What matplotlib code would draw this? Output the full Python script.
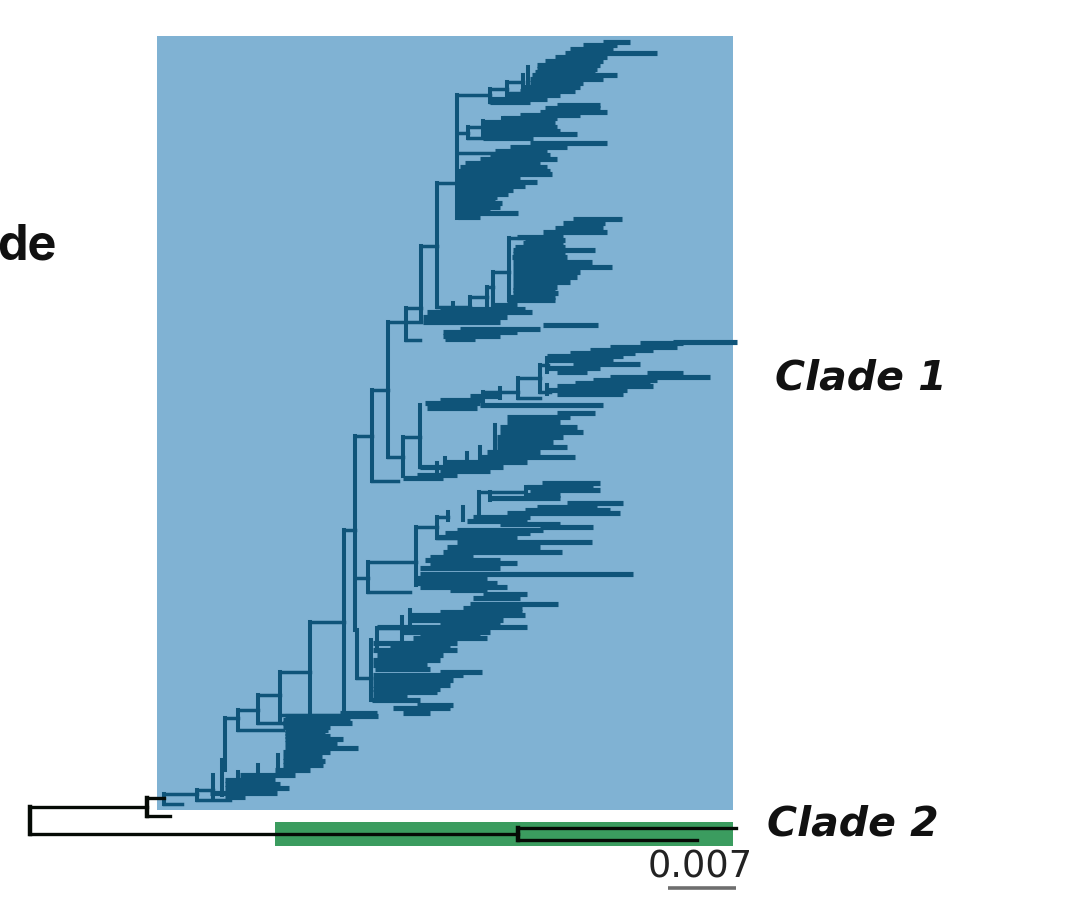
import matplotlib
matplotlib.use("Agg")
import matplotlib.pyplot as plt
from matplotlib.patches import Rectangle

# tree: tips are (row, start, end), in image pixels
tips_top_a = [(42, 603, 630), (45, 583, 617), (49, 570, 613), (53, 565, 657), (57, 555, 607),
              (61, 545, 603), (65, 537, 600), (69, 537, 597), (72, 535, 595), (75, 532, 617),
              (79, 530, 603), (83, 530, 583), (87, 523, 580), (91, 520, 575), (95, 507, 560),
              (99, 490, 547), (102, 490, 530)]
tips_top_b = [(105, 557, 600), (108, 545, 600), (112, 540, 607), (115, 520, 580), (118, 503, 557),
              (122, 483, 555), (127, 483, 557), (131, 483, 560), (134, 483, 577), (138, 483, 533)]
tips_top_c = [(143, 530, 607), (147, 510, 567), (151, 495, 547), (155, 490, 550), (159, 480, 557),
              (163, 465, 540), (167, 460, 547), (171, 458, 550), (174, 458, 552), (178, 458, 520),
              (182, 458, 537), (186, 458, 525), (190, 458, 513), (194, 458, 508), (197, 458, 497),
              (200, 458, 495), (203, 458, 502), (207, 458, 500), (210, 458, 490), (213, 458, 518),
              (217, 458, 480)]
tips_second = [(219, 573, 622), (223, 563, 605), (228, 555, 603), (232, 543, 607), (237, 517, 563),
               (240, 525, 565), (243, 523, 563), (247, 515, 565), (250, 513, 595), (254, 513, 565),
               (257, 512, 567), (262, 513, 592), (267, 513, 612), (272, 513, 580), (277, 513, 577),
               (282, 513, 570), (287, 513, 557), (290, 513, 555), (293, 513, 558), (297, 510, 555),
               (300, 507, 555), (305, 493, 517), (309, 440, 525), (312, 427, 532), (317, 423, 507),
               (322, 423, 500)]
tips_side = [(325, 543, 598), (329, 460, 540), (332, 443, 517), (336, 443, 500), (339, 445, 475)]
tips_long_up = [(342, 673, 737), (343, 640, 683), (347, 610, 677), (350, 590, 653), (353, 570, 635),
                (356, 547, 623), (360, 547, 613), (364, 573, 640), (368, 547, 600), (372, 557, 587)]
tips_long_low = [(373, 647, 683), (377, 610, 710), (380, 593, 657), (383, 575, 650), (386, 557, 653),
                 (390, 547, 627), (394, 557, 623)]
tips_mid = [(396, 470, 500), (400, 440, 483), (403, 425, 480), (405, 480, 603), (408, 427, 477),
            (413, 557, 595), (417, 507, 570), (422, 507, 560), (427, 500, 577), (432, 500, 583),
            (437, 497, 563), (442, 497, 553), (447, 497, 567), (452, 487, 540), (457, 480, 575),
            (462, 443, 527), (467, 420, 503), (471, 440, 490), (475, 417, 457), (478, 403, 443)]
tips_low_a = [(483, 542, 600), (487, 527, 593), (490, 530, 600), (495, 527, 560), (498, 490, 560),
              (503, 567, 623), (507, 537, 597), (510, 525, 610), (513, 507, 620), (517, 473, 530),
              (521, 467, 527), (524, 500, 560), (527, 540, 593), (530, 457, 543), (533, 445, 530),
              (537, 437, 517), (542, 457, 592), (547, 447, 540), (552, 443, 562), (557, 430, 473),
              (560, 425, 500), (563, 430, 517), (568, 420, 500), (574, 420, 633), (578, 417, 487),
              (583, 417, 497), (587, 420, 507), (590, 450, 487)]
tips_low_b = [(594, 483, 527), (598, 473, 520), (604, 470, 558), (608, 463, 522), (612, 440, 522),
              (615, 410, 525), (620, 410, 503), (624, 440, 500), (627, 377, 527), (632, 403, 490),
              (635, 420, 480), (638, 413, 487), (643, 373, 457), (647, 390, 450), (650, 373, 457),
              (655, 377, 443), (660, 373, 440), (665, 373, 427), (669, 375, 430), (672, 440, 482),
              (675, 373, 463), (680, 373, 453), (685, 373, 450), (689, 373, 440), (692, 373, 437),
              (697, 373, 407), (700, 372, 420), (705, 417, 453), (708, 393, 450), (713, 403, 430)]
tips_root = [(713, 340, 377), (716, 285, 378), (720, 283, 350), (723, 283, 352), (727, 283, 330),
             (730, 285, 328), (733, 285, 325), (736, 285, 330), (739, 285, 343), (743, 285, 337),
             (748, 285, 358), (752, 283, 330), (757, 283, 322), (761, 283, 325), (765, 283, 323),
             (770, 275, 310), (775, 240, 295), (780, 225, 275), (784, 225, 280), (788, 225, 289),
             (793, 210, 277), (797, 225, 245)]
all_tips = [tips_top_a, tips_top_b, tips_top_c, tips_second, tips_side, tips_long_up, tips_long_low,
            tips_mid, tips_low_a, tips_low_b, tips_root]

# internal branches: horizontal (row, start, end), vertical (col, top, bottom)
branch_h = [(95, 457, 490), (89, 490, 507), (102, 490, 507), (82, 507, 523), (93, 507, 523),
            (133, 457, 468), (127, 468, 483), (138, 468, 483), (153, 457, 495),
            (183, 437, 457), (307, 437, 470), (246, 421, 437), (238, 509, 525), (272, 493, 509),
            (287, 487, 493), (297, 470, 487), (322, 388, 421), (308, 406, 421), (340, 406, 420),
            (390, 372, 388), (457, 388, 403), (481, 372, 398), (437, 403, 420), (467, 420, 437),
            (378, 518, 540), (398, 518, 540), (392, 483, 518), (365, 540, 548), (392, 540, 550),
            (436, 355, 372), (530, 344, 355), (578, 357, 368), (562, 368, 416), (592, 368, 410),
            (527, 416, 437), (538, 437, 460), (517, 437, 448), (492, 479, 525), (678, 357, 371),
            (628, 377, 400), (622, 310, 344), (672, 280, 310), (695, 258, 280),
            (710, 238, 258), (718, 225, 238), (730, 238, 283), (723, 258, 283), (715, 283, 345),
            (794, 165, 197), (790, 197, 213), (800, 197, 230), (804, 164, 182)]
branch_v = [(457, 95, 218), (490, 89, 102), (507, 82, 102), (523, 75, 93), (528, 67, 90),
            (468, 127, 138), (483, 121, 138), (503, 118, 127), (437, 183, 307),
            (509, 238, 300), (493, 272, 310), (487, 287, 310), (470, 297, 312), (453, 303, 318),
            (421, 246, 322), (406, 308, 340), (388, 322, 457), (372, 390, 481), (403, 437, 476),
            (420, 405, 467), (483, 392, 402), (500, 388, 398), (518, 378, 398), (540, 365, 392),
            (547, 358, 372), (547, 385, 394), (437, 463, 472), (445, 458, 470), (467, 453, 465),
            (480, 447, 460), (495, 425, 460), (355, 436, 630), (344, 530, 715), (357, 630, 678),
            (368, 562, 592), (416, 527, 585), (437, 517, 538), (448, 512, 520), (463, 507, 520),
            (479, 492, 520), (490, 492, 500), (526, 487, 497), (371, 640, 700), (377, 628, 650),
            (402, 617, 640), (410, 610, 630), (310, 622, 715), (280, 672, 723), (258, 695, 723),
            (238, 710, 730), (225, 718, 770), (222, 760, 795), (213, 775, 797), (197, 790, 800),
            (164, 794, 804), (278, 755, 770), (258, 765, 775), (238, 772, 785)]

# outgroup and clade 2, drawn in black
outgroup_h = [(807, 30, 147), (798, 147, 164), (816, 147, 170), (834, 30, 518),
              (828, 518, 736), (840, 518, 697)]
outgroup_v = [(30, 807, 834), (147, 798, 816), (518, 828, 840)]

clade_labels = ["Clade 1", "Clade 2"]
scale_label = "0.007"

BLUE = "#80b2d3"
TREE = "#0f5479"
GREEN = "#3b9c5f"

fig = plt.figure(figsize=(10.92, 9.01), dpi=100)
ax = fig.add_axes([0, 0, 1, 1])
ax.set_xlim(0, 1092)
ax.set_ylim(901, 0)
ax.axis("off")

# coloured clade backgrounds
ax.add_patch(Rectangle((157, 36), 576, 774, color=BLUE, lw=0))
ax.add_patch(Rectangle((275, 822), 458, 24, color=GREEN, lw=0))

for group in all_tips:
    ax.hlines([t[0] for t in group], [t[1] for t in group], [t[2] for t in group],
              color=TREE, lw=3.7, capstyle="butt")
ax.hlines([b[0] for b in branch_h], [b[1] for b in branch_h], [b[2] for b in branch_h],
          color=TREE, lw=2.5, capstyle="projecting")
ax.vlines([b[0] for b in branch_v], [b[1] for b in branch_v], [b[2] for b in branch_v],
          color=TREE, lw=2.9, capstyle="projecting")

ax.hlines([b[0] for b in outgroup_h], [b[1] for b in outgroup_h], [b[2] for b in outgroup_h],
          color="#050a05", lw=2.4, capstyle="projecting")
ax.vlines([b[0] for b in outgroup_v], [b[1] for b in outgroup_v], [b[2] for b in outgroup_v],
          color="#050a05", lw=3.2, capstyle="projecting")

# scale bar
ax.hlines(888, 668, 736, color="#6e6e6e", lw=2.6)
ax.text(700, 867, scale_label, ha="center", va="center", fontsize=26.5, color="#222222")

ax.text(775, 378, clade_labels[0], ha="left", va="center", fontsize=29.5,
        fontweight="bold", fontstyle="italic", color="#111111")
ax.text(767, 824, clade_labels[1], ha="left", va="center", fontsize=29.5,
        fontweight="bold", fontstyle="italic", color="#111111")

# cropped word at the left edge of the original
ax.text(-3, 246, "de", ha="left", va="center", fontsize=35, fontweight="bold",
        family="Inter", color="#111111")

plt.savefig("out.png", dpi=100)
